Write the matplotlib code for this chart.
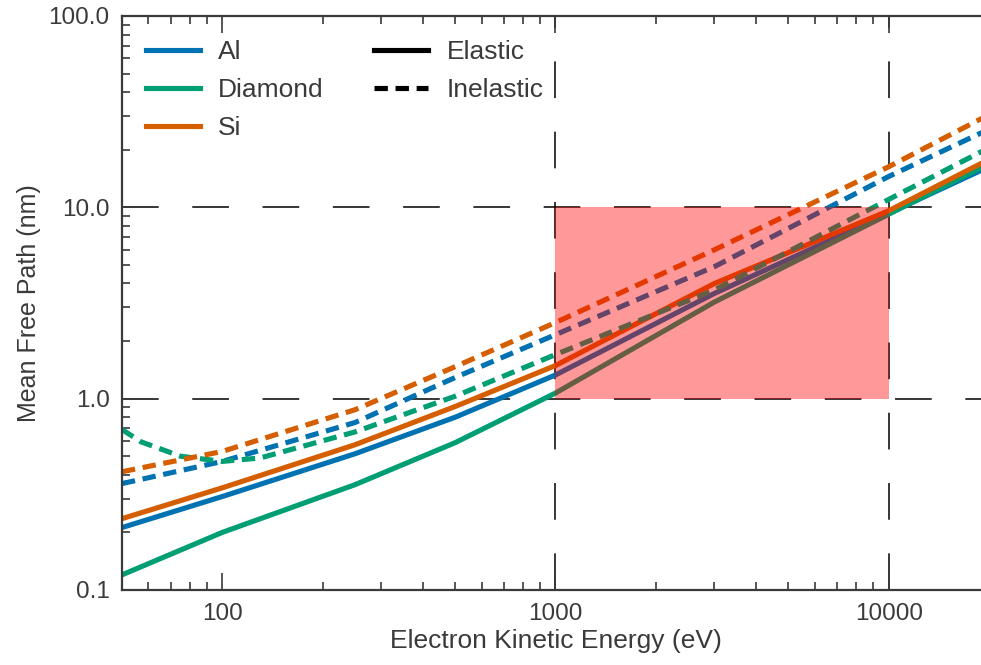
import matplotlib
matplotlib.use("Agg")
import matplotlib.pyplot as plt
from matplotlib.lines import Line2D
from matplotlib.ticker import FuncFormatter, NullFormatter
import numpy as np

plt.rcParams['font.family'] = ['Liberation Sans', 'DejaVu Sans']

# ---------------------------------------------------------------- data
energy = [50, 100, 250, 500, 1000, 3000, 10000, 20000]
al_elastic = [0.212, 0.308, 0.515, 0.80, 1.33, 3.55, 9.3, 16.3]
si_elastic = [0.236, 0.342, 0.574, 0.91, 1.49, 4.0, 9.6, 17.8]
dia_elastic = [0.120, 0.200, 0.355, 0.589, 1.07, 3.2, 9.2, 16.9]

al_inelastic = [0.36, 0.47, 0.75, 1.29, 2.16, 4.9, 14.5, 25.6]
si_inelastic = [0.415, 0.53, 0.875, 1.47, 2.5, 6.0, 16.3, 30.5]
energy_dia = [50, 57, 75, 100, 130, 250, 500, 1000, 3000, 10000, 20000]
dia_inelastic = [0.69, 0.595, 0.50, 0.47, 0.49, 0.67, 1.03, 1.70, 3.7, 11.0, 20.5]

box_x = [1000, 10000]
box_y = [1, 10]
ref_x = [1000, 10000]
ref_y = [1, 10]

c_al, c_dia, c_si = '#0072B2', '#009E73', '#D55E00'
txt = '#3a3a3a'
lw = 3.7
dash = (0, (2.6, 1.5))

# ---------------------------------------------------------------- fig
fig = plt.figure(figsize=(9.81, 6.65), dpi=100)
ax = fig.add_axes([122/981, 75/665, (989-122)/981, 574/665])

ax.plot(energy, al_elastic, color=c_al, lw=lw, solid_capstyle='butt')
ax.plot(energy, dia_elastic, color=c_dia, lw=lw, solid_capstyle='butt')
ax.plot(energy, si_elastic, color=c_si, lw=lw, solid_capstyle='butt')
ax.plot(energy, al_inelastic, color=c_al, lw=lw, ls=dash)
ax.plot(energy_dia, dia_inelastic, color=c_dia, lw=lw, ls=dash)
ax.plot(energy, si_inelastic, color=c_si, lw=lw, ls=dash)

for xv in ref_x:
    ax.axvline(xv, color='k', lw=1.1, ls=(0, (24, 22)), zorder=1)
for yv in ref_y:
    ax.axhline(yv, color='k', lw=1.1, ls=(0, (24, 22)), zorder=1)

ax.fill_between(box_x, box_y[0], box_y[1], color='red', alpha=0.4,
                lw=0, zorder=5)

ax.set_xscale('log')
ax.set_yscale('log')
ax.set_xlim(50, 20000)
ax.set_ylim(0.1, 100)

ax.xaxis.set_major_formatter(FuncFormatter(lambda v, p: '%d' % v))
ax.yaxis.set_major_formatter(FuncFormatter(lambda v, p: '%.1f' % v))
ax.xaxis.set_minor_formatter(NullFormatter())
ax.yaxis.set_minor_formatter(NullFormatter())
ax.tick_params(which='both', direction='in', top=True, right=True,
               colors=txt, labelsize=17.5, width=1.2)
ax.tick_params(which='major', length=12.5, pad=9)
ax.tick_params(which='minor', length=6)
for s in ax.spines.values():
    s.set_color(txt)
    s.set_linewidth(1.6)

ax.set_xlabel('Electron Kinetic Energy (eV)', fontsize=19, color=txt,
              labelpad=3)
ax.set_ylabel('Mean Free Path (nm)', fontsize=18, color=txt, labelpad=5)

handles = [Line2D([], [], color=c_al, lw=lw),
           Line2D([], [], color=c_dia, lw=lw),
           Line2D([], [], color=c_si, lw=lw),
           Line2D([], [], color='k', lw=lw),
           Line2D([], [], color='k', lw=lw, ls=dash)]
labels = ['Al', 'Diamond', 'Si', 'Elastic', 'Inelastic']
leg = ax.legend(handles, labels, ncol=2, loc='upper left', frameon=False,
                fontsize=19, handlelength=2.05, handletextpad=0.7,
                columnspacing=1.9, labelspacing=0.54, borderaxespad=0.5)
for t in leg.get_texts():
    t.set_color(txt)

fig.savefig('out.png', dpi=100)
